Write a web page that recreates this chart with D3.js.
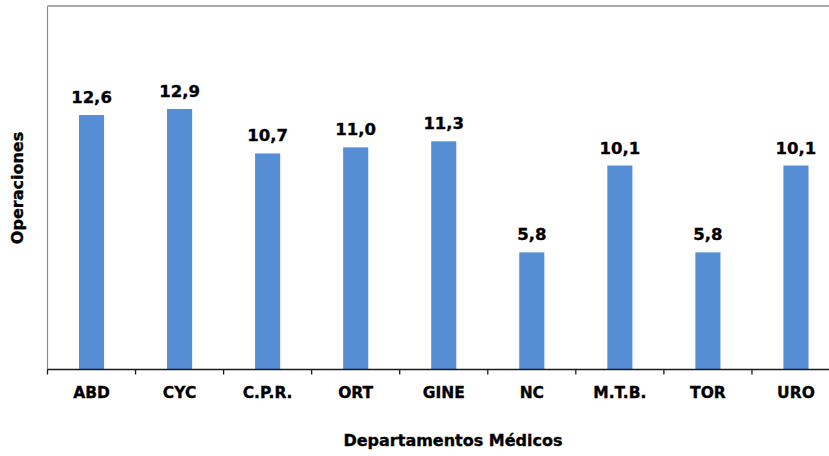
<!DOCTYPE html>
<html><head><meta charset="utf-8">
<script src="https://cdn.jsdelivr.net/npm/d3@7"></script>
<style>html,body{margin:0;padding:0;background:#fff;overflow:hidden}</style>
</head><body>
<svg id="c" width="829" height="456"></svg>
<script>
const categories = ["ABD","CYC","C.P.R.","ORT","GINE","NC","M.T.B.","TOR","URO"];
const values = [12.6,12.9,10.7,11.0,11.3,5.8,10.1,5.8,10.1];
const yDomainMax = 18;
const xTitle = "Departamentos Médicos";
const yTitle = "Operaciones";

const svg = d3.select("#c");
const font = "'DejaVu Sans', Verdana, sans-serif";
const mLeft = 47.5, mRight = 840, mTop = 6, mBottom = 369.5;

const x = d3.scaleBand().domain(categories).range([mLeft, mRight]).paddingInner(0.715).paddingOuter(0.3575);
const y = d3.scaleLinear().domain([0, yDomainMax]).range([mBottom, mTop]);

function heavy(sel, size) {
  return sel.attr("font-family", font).attr("font-weight", "bold").attr("font-size", size)
    .attr("fill", "#000").attr("stroke", "#000").attr("stroke-width", 0.35);
}

// top border and left axis line
svg.append("line").attr("x1", mLeft).attr("x2", 829).attr("y1", mTop).attr("y2", mTop)
  .attr("stroke", "#8c8c8c").attr("stroke-width", 1.5);
svg.append("line").attr("x1", mLeft).attr("x2", mLeft).attr("y1", mTop).attr("y2", mBottom)
  .attr("stroke", "#8c8c8c").attr("stroke-width", 1.2);

svg.append("g").selectAll("rect").data(values).join("rect")
  .attr("x", (d,i) => x(categories[i]))
  .attr("y", d => y(d))
  .attr("width", x.bandwidth())
  .attr("height", d => y(0) - y(d))
  .attr("fill", "#558ED5");

// x axis
const step = x.step();
const xAxis = svg.append("g");
xAxis.append("line").attr("x1", mLeft).attr("x2", 829).attr("y1", mBottom).attr("y2", mBottom)
  .attr("stroke", "#1a1a1a").attr("stroke-width", 1.3);
xAxis.selectAll("line.tick").data(d3.range(categories.length + 1)).join("line")
  .attr("class", "tick")
  .attr("x1", i => mLeft + i * step).attr("x2", i => mLeft + i * step)
  .attr("y1", mBottom).attr("y2", mBottom + 5)
  .attr("stroke", "#1a1a1a").attr("stroke-width", 1.3);
heavy(xAxis.selectAll("text").data(categories).join("text")
  .attr("x", d => x(d) + x.bandwidth() / 2)
  .attr("y", 398)
  .attr("text-anchor", "middle"), "15.5px")
  .text(d => d);

// value labels
heavy(svg.append("g").selectAll("text").data(values).join("text")
  .attr("x", (d,i) => x(categories[i]) + x.bandwidth() / 2)
  .attr("y", d => y(d) - 12)
  .attr("text-anchor", "middle"), "16.5px")
  .text(d => d3.format(".1f")(d).replace(".", ","));

heavy(svg.append("text").attr("x", 453).attr("y", 446)
  .attr("text-anchor", "middle"), "16px")
  .text(xTitle);

heavy(svg.append("text").attr("transform", "translate(23,188) rotate(-90)")
  .attr("text-anchor", "middle"), "16px")
  .text(yTitle);
</script>
</body></html>
